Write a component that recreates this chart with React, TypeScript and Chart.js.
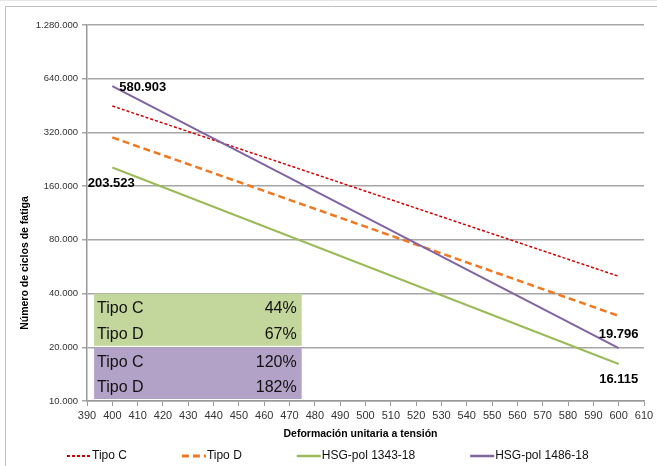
import React, { useEffect, useRef } from 'react';
import { Chart, registerables } from 'chart.js';

Chart.register(...registerables);

const xPoints = [400, 600];
const tipoC = [450000, 50000];
const tipoD = [300000, 30000];
const hsg1343 = [203523, 16115];
const hsg1486 = [580903, 19796];
const yTicks = [10000, 20000, 40000, 80000, 160000, 320000, 640000, 1280000];
const seriesNames = ['Tipo C', 'Tipo D', 'HSG-pol 1343-18', 'HSG-pol 1486-18'];
const boxNames = ['Tipo C', 'Tipo D', 'Tipo C', 'Tipo D'];
const boxPercents = ['44%', '67%', '120%', '182%'];
const xTitle = 'Deformación unitaria a tensión';
const yTitle = 'Número de ciclos de fatiga';

const colors = ['#D20000', '#F07820', '#9BBB59', '#8064A2'];
const dashes = [[3, 2], [7, 4], [], []];
const widths = [1.5, 2.5, 2, 2];

const FONT = '"Liberation Sans", Arial, sans-serif';

const fmt = (v: number) => Math.round(v).toString().replace(/\B(?=(\d{3})+(?!\d))/g, '.');

const toPts = (ys: number[]) => xPoints.map((x, i) => ({ x, y: ys[i] }));

const overlay = {
  id: 'overlay',
  beforeDraw(chart: any) {
    const ctx = chart.ctx;
    ctx.save();
    ctx.fillStyle = '#fff';
    ctx.fillRect(0, 0, chart.width, chart.height);
    ctx.strokeStyle = '#E6E6E6';
    ctx.lineWidth = 1;
    ctx.beginPath();
    ctx.moveTo(0, 0.5);
    ctx.lineTo(chart.width, 0.5);
    ctx.stroke();
    ctx.strokeStyle = '#BFBFBF';
    ctx.beginPath();
    ctx.moveTo(5.5, chart.height + 5);
    ctx.lineTo(5.5, 6.5);
    ctx.lineTo(chart.width + 5, 6.5);
    ctx.stroke();
    ctx.restore();
  },
  afterDatasetsDraw(chart: any) {
    const ctx = chart.ctx;
    const xs = chart.scales.x;
    const ys = chart.scales.y;
    ctx.save();
    // boxes
    const bx0 = xs.getPixelForValue(392.8);
    const bx1 = xs.getPixelForValue(474.8);
    const y40 = ys.getPixelForValue(40000);
    const y20 = ys.getPixelForValue(20000);
    const y10 = ys.getPixelForValue(10000);
    ctx.fillStyle = '#C3D69B';
    ctx.fillRect(bx0, y40, bx1 - bx0, y20 - 1.5 - y40);
    ctx.fillStyle = '#B3A2C7';
    ctx.fillRect(bx0, y20 + 0.5, bx1 - bx0, y10 - 2 - (y20 + 0.5));
    ctx.fillStyle = '#111';
    ctx.font = `16px ${FONT}`;
    ctx.textBaseline = 'middle';
    const rowYs = [y40 + 15, y40 + 41, y20 + 15, y20 + 40];
    boxNames.forEach((n, i) => {
      ctx.textAlign = 'left';
      ctx.fillText(n, bx0 + 3, rowYs[i]);
      ctx.textAlign = 'right';
      ctx.fillText(boxPercents[i], bx1 - 5, rowYs[i]);
    });
    // data labels
    ctx.font = `bold 13px ${FONT}`;
    ctx.fillStyle = '#000';
    const p = (x: number, y: number) => [xs.getPixelForValue(x), ys.getPixelForValue(y)];
    let [px, py] = p(xPoints[0], hsg1486[0]);
    ctx.textAlign = 'left';
    ctx.fillText(fmt(hsg1486[0]), px + 7, py + 1);
    [px, py] = p(xPoints[0], hsg1343[0]);
    ctx.textAlign = 'center';
    ctx.fillText(fmt(hsg1343[0]), px - 1, py + 16);
    [px, py] = p(xPoints[1], hsg1486[1]);
    ctx.fillText(fmt(hsg1486[1]), px, py - 14);
    [px, py] = p(xPoints[1], hsg1343[1]);
    ctx.fillText(fmt(hsg1343[1]), px, py + 15);
    ctx.restore();
  },
  afterDraw(chart: any) {
    const ctx = chart.ctx;
    const area = chart.chartArea;
    ctx.save();
    ctx.fillStyle = '#000';
    ctx.font = `bold 10.5px ${FONT}`;
    ctx.textAlign = 'center';
    ctx.textBaseline = 'middle';
    ctx.fillText(xTitle, (area.left + area.right) / 2 - 5, area.bottom + 33);
    ctx.translate(25, 263);
    ctx.rotate(-Math.PI / 2);
    ctx.fillText(yTitle, 0, 0);
    ctx.restore();
    // legend
    ctx.save();
    ctx.font = `12px ${FONT}`;
    ctx.textBaseline = 'middle';
    ctx.textAlign = 'left';
    let x = 67;
    const ly = 456;
    seriesNames.forEach((n, i) => {
      ctx.strokeStyle = colors[i];
      ctx.lineWidth = widths[i] + 0.5;
      ctx.setLineDash(dashes[i]);
      ctx.beginPath();
      ctx.moveTo(x, ly);
      ctx.lineTo(x + 24, ly);
      ctx.stroke();
      ctx.setLineDash([]);
      ctx.fillStyle = '#111';
      ctx.fillText(n, x + 25, ly);
      x += 25 + ctx.measureText(n).width + 55;
    });
    ctx.restore();
  },
};

export default function App() {
  const ref = useRef<HTMLCanvasElement>(null);
  useEffect(() => {
    if (!ref.current) return;
    Chart.defaults.font.family = FONT;
    const allSeries = [tipoC, tipoD, hsg1343, hsg1486];
    const chart = new Chart(ref.current, {
      type: 'line',
      data: {
        datasets: allSeries.map((s, i) => ({
          label: seriesNames[i],
          data: toPts(s),
          borderColor: colors[i],
          backgroundColor: colors[i],
          borderWidth: widths[i],
          borderDash: dashes[i],
          pointRadius: 0,
          tension: 0,
          fill: false,
          order: 4 - i,
        })),
      },
      options: {
        responsive: false,
        animation: false,
        layout: { padding: { left: 0, right: 13, top: 25, bottom: 22 } },
        plugins: { legend: { display: false }, tooltip: { enabled: false } },
        scales: {
          x: {
            type: 'linear',
            min: 390,
            max: 610,
            ticks: { stepSize: 10, font: { size: 11 }, color: '#333', padding: 3, maxRotation: 0, autoSkip: false },
            grid: { drawOnChartArea: false, drawTicks: true, tickLength: 5, color: '#999' },
            border: { color: '#999', width: 1.5 },
            afterFit: (s: any) => { s.height = 43; },
          },
          y: {
            type: 'logarithmic',
            min: 10000,
            max: 1280000,
            afterBuildTicks: (s: any) => { s.ticks = yTicks.map((v) => ({ value: v })); },
            ticks: { callback: (v: any) => fmt(Number(v)), font: { size: 9.5 }, color: '#333', padding: 4, autoSkip: false },
            grid: { color: '#A6A6A6', lineWidth: 1.5, tickLength: 5 },
            border: { color: '#999', width: 1.5 },
            afterFit: (s: any) => { s.width = 87; },
          },
        },
      },
      plugins: [overlay],
    } as any);
    return () => chart.destroy();
  }, []);
  return (
    <div style={{ position: 'fixed', left: 0, top: 0, width: 657, height: 466 }}>
      <canvas ref={ref} width={657} height={466} style={{ display: 'block', width: 657, height: 466 }} />
    </div>
  );
}
